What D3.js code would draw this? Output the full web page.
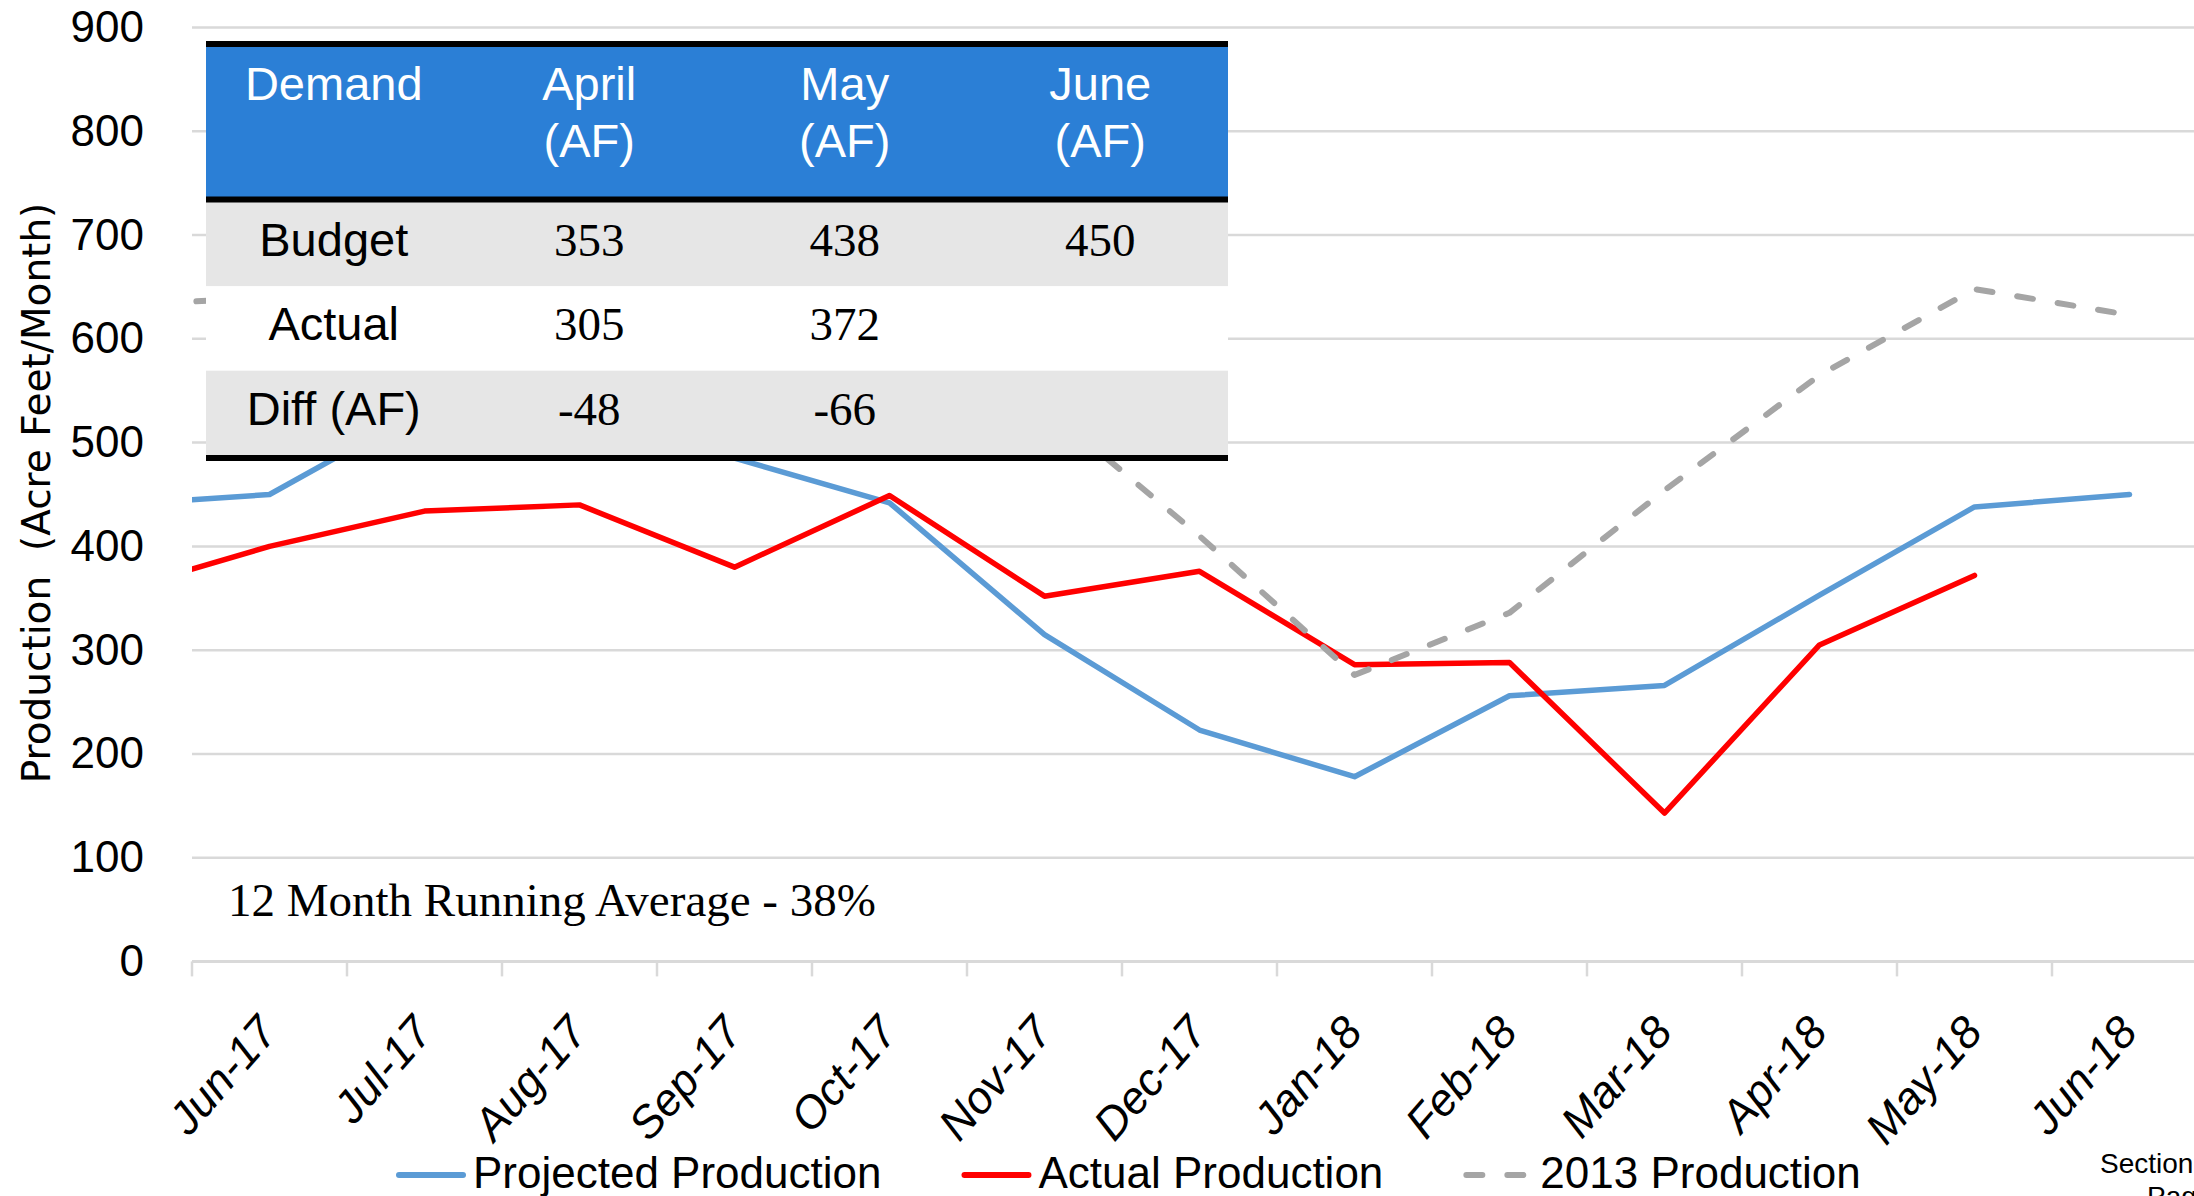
<!DOCTYPE html>
<html>
<head>
<meta charset="utf-8">
<script src="https://cdn.jsdelivr.net/npm/d3@7"></script>
<style>
  html, body { margin: 0; padding: 0; background: #fff; overflow: hidden; }
</style>
</head>
<body>
<script>

// months on the category axis; the first one sits left of the plot and only shows as the clipped lead-in of each line
const months = ["May-17", "Jun-17", "Jul-17", "Aug-17", "Sep-17", "Oct-17", "Nov-17", "Dec-17",
                "Jan-18", "Feb-18", "Mar-18", "Apr-18", "May-18", "Jun-18"];
const projected = [440, 450, 533, 550, 485, 442, 315, 223, 178, 256, 266, 353, 438, 450];
const actual    = [356, 400, 434, 440, 380, 449, 352, 376, 286, 288, 143, 305, 372, null];
const prod2013  = [632, 640, 700, 720, 680, 620, 535, 410, 276, 336, 454, 565, 648, 623];
const seriesNames = ["Projected Production", "Actual Production", "2013 Production"];
const yTicks = [0, 100, 200, 300, 400, 500, 600, 700, 800, 900];

// the table laid over the top left of the chart
const tableHead = [["Demand"], ["April", "(AF)"], ["May", "(AF)"], ["June", "(AF)"]];
const tableRowLabels = ["Budget", "Actual", "Diff (AF)"];
const tableApril = [353, 305, -48];
const tableMay   = [438, 372, -66];
const tableJune  = [450, null, null];

const noteText = "12 Month Running Average - 38%";

const SANS = "'Liberation Sans', Arial, sans-serif";
const SERIF = "'Liberation Serif', 'Times New Roman', serif";

const W = 2194, H = 1196;
const plotLeft = 192, step = 155;
const baseY = 961.4, topY = 27.6;

const svg = d3.select("body").append("svg")
    .attr("width", W)
    .attr("height", H)
    .style("font-family", SANS);

const x = d3.scaleBand()
    .domain(months)
    .range([plotLeft - step, plotLeft + step * (months.length - 1)]);

const y = d3.scaleLinear()
    .domain([0, 900])
    .range([baseY, topY]);

const cx = m => x(m) + x.bandwidth() / 2;

// gridlines
svg.append("g")
    .selectAll("line")
    .data(yTicks)
    .enter()
    .append("line")
        .attr("x1", plotLeft)
        .attr("x2", W)
        .attr("y1", d => y(d))
        .attr("y2", d => y(d))
        .style("stroke", "#d9d9d9")
        .style("stroke-width", d => d === 0 ? 3 : 2.5);

// y axis labels
const yAxis = svg.append("g")
    .attr("transform", "translate(" + plotLeft + ",0)")
    .call(d3.axisLeft(y).tickValues(yTicks).tickSize(0).tickPadding(48));
yAxis.select(".domain").remove();
yAxis.selectAll("text")
    .style("font-family", SANS)
    .style("font-size", "44px")
    .attr("fill", "#000");

// tick marks between categories
svg.append("g")
    .selectAll("line")
    .data(months.slice(1))
    .enter()
    .append("line")
        .attr("x1", d => x(d))
        .attr("x2", d => x(d))
        .attr("y1", baseY)
        .attr("y2", baseY + 15)
        .style("stroke", "#d9d9d9")
        .style("stroke-width", 2.5);

// x axis labels
const xAxis = svg.append("g")
    .attr("transform", "translate(0," + baseY + ")")
    .call(d3.axisBottom(x).tickValues(months.slice(1)).tickSize(0));
xAxis.select(".domain").remove();
xAxis.selectAll("text")
    .attr("x", 0)
    .attr("y", 0)
    .attr("dy", 0)
    .attr("text-anchor", "end")
    .attr("transform", "translate(10,72) rotate(-49)")
    .style("font-family", SANS)
    .style("font-style", "italic")
    .style("font-size", "45px")
    .attr("fill", "#000");

// y axis title
svg.append("text")
    .attr("transform", "translate(50,493) rotate(-90)")
    .attr("text-anchor", "middle")
    .style("font-family", "'DejaVu Sans', sans-serif")
    .style("font-size", "39px")
    .style("white-space", "pre")
    .attr("fill", "#000")
    .text("Production  (Acre Feet/Month)");

// lines, clipped to the plot area
svg.append("clipPath")
    .attr("id", "plotClip")
    .append("rect")
        .attr("x", plotLeft)
        .attr("y", 0)
        .attr("width", W - plotLeft)
        .attr("height", baseY);

const line = d3.line()
    .defined(d => d != null)
    .x((d, i) => cx(months[i]))
    .y(d => y(d));

const series = [
    { values: projected, color: "#5b9bd5", dash: null },
    { values: actual, color: "#ff0000", dash: null },
    { values: prod2013, color: "#a5a5a5", dash: "16 25" }
];

const lines = svg.append("g").attr("clip-path", "url(#plotClip)");
series.forEach(s => {
    lines.append("path")
        .datum(s.values)
        .attr("d", line)
        .style("fill", "none")
        .style("stroke", s.color)
        .style("stroke-width", s.dash ? 6 : 5.5)
        .style("stroke-linejoin", "round")
        .style("stroke-linecap", "round")
        .style("stroke-dasharray", s.dash);
});

// note
svg.append("text")
    .attr("x", 228)
    .attr("y", 916)
    .style("font-family", SERIF)
    .style("font-size", "47px")
    .attr("fill", "#000")
    .text(noteText);

// table
const tLeft = 206, tRight = 1228;
const col = d3.scaleBand().domain(d3.range(tableHead.length)).range([tLeft, tRight]);
const rowY = d3.scaleBand().domain(tableRowLabels).range([202, 455]);
const table = svg.append("g");

// white backing so no line shows through the row seams
table.append("rect")
    .attr("x", tLeft).attr("y", 44)
    .attr("width", tRight - tLeft).attr("height", 414)
    .style("fill", "#ffffff");

table.append("rect")
    .attr("x", tLeft).attr("y", 44)
    .attr("width", tRight - tLeft).attr("height", 155)
    .style("fill", "#2b7fd6");

table.selectAll(".rowbg")
    .data(tableRowLabels)
    .enter()
    .append("rect")
        .attr("x", tLeft)
        .attr("y", d => rowY(d))
        .attr("width", tRight - tLeft)
        .attr("height", rowY.bandwidth())
        .style("fill", (d, i) => i % 2 === 0 ? "#e6e6e6" : "#ffffff");

[44, 199.5, 458].forEach(yy => {
    table.append("line")
        .attr("x1", tLeft).attr("x2", tRight)
        .attr("y1", yy).attr("y2", yy)
        .style("stroke", "#000")
        .style("stroke-width", 6);
});

tableHead.forEach((parts, i) => {
    parts.forEach((t, j) => {
        table.append("text")
            .attr("x", col(i) + col.bandwidth() / 2)
            .attr("y", 100 + j * 57)
            .attr("text-anchor", "middle")
            .style("font-family", SANS)
            .style("font-size", "47px")
            .attr("fill", "#fff")
            .text(t);
    });
});

tableRowLabels.forEach((label, r) => {
    const by = rowY(label) + 54;
    table.append("text")
        .attr("x", col(0) + col.bandwidth() / 2)
        .attr("y", by)
        .attr("text-anchor", "middle")
        .style("font-family", SANS)
        .style("font-size", "47px")
        .attr("fill", "#000")
        .text(label);
    [tableApril, tableMay, tableJune].forEach((vals, c) => {
        if (vals[r] == null) return;
        table.append("text")
            .attr("x", col(c + 1) + col.bandwidth() / 2)
            .attr("y", by)
            .attr("text-anchor", "middle")
            .style("font-family", SERIF)
            .style("font-size", "47px")
            .attr("fill", "#000")
            .text(vals[r]);
    });
});

// legend
const legend = svg.append("g");
let lx = 396;
series.forEach((s, i) => {
    legend.append("line")
        .attr("x1", lx + 3).attr("x2", lx + 67)
        .attr("y1", 1175).attr("y2", 1175)
        .style("stroke", s.color)
        .style("stroke-width", 6)
        .style("stroke-linecap", "round")
        .style("stroke-dasharray", s.dash ? "16 25" : null);
    const t = legend.append("text")
        .attr("x", lx + 77)
        .attr("y", 1188)
        .style("font-family", SANS)
        .style("font-size", "44px")
        .attr("fill", "#000")
        .text(seriesNames[i]);
    lx += 77 + t.node().getComputedTextLength() + 80;
});

// page footer, cut by the slide edge as in the slide
svg.append("text")
    .attr("x", 2100).attr("y", 1173)
    .style("font-family", SANS)
    .style("font-size", "28px")
    .attr("fill", "#000")
    .text("Section");
svg.append("text")
    .attr("x", 2147).attr("y", 1206)
    .style("font-family", SANS)
    .style("font-size", "28px")
    .attr("fill", "#000")
    .text("Page");

</script>
</body>
</html>
